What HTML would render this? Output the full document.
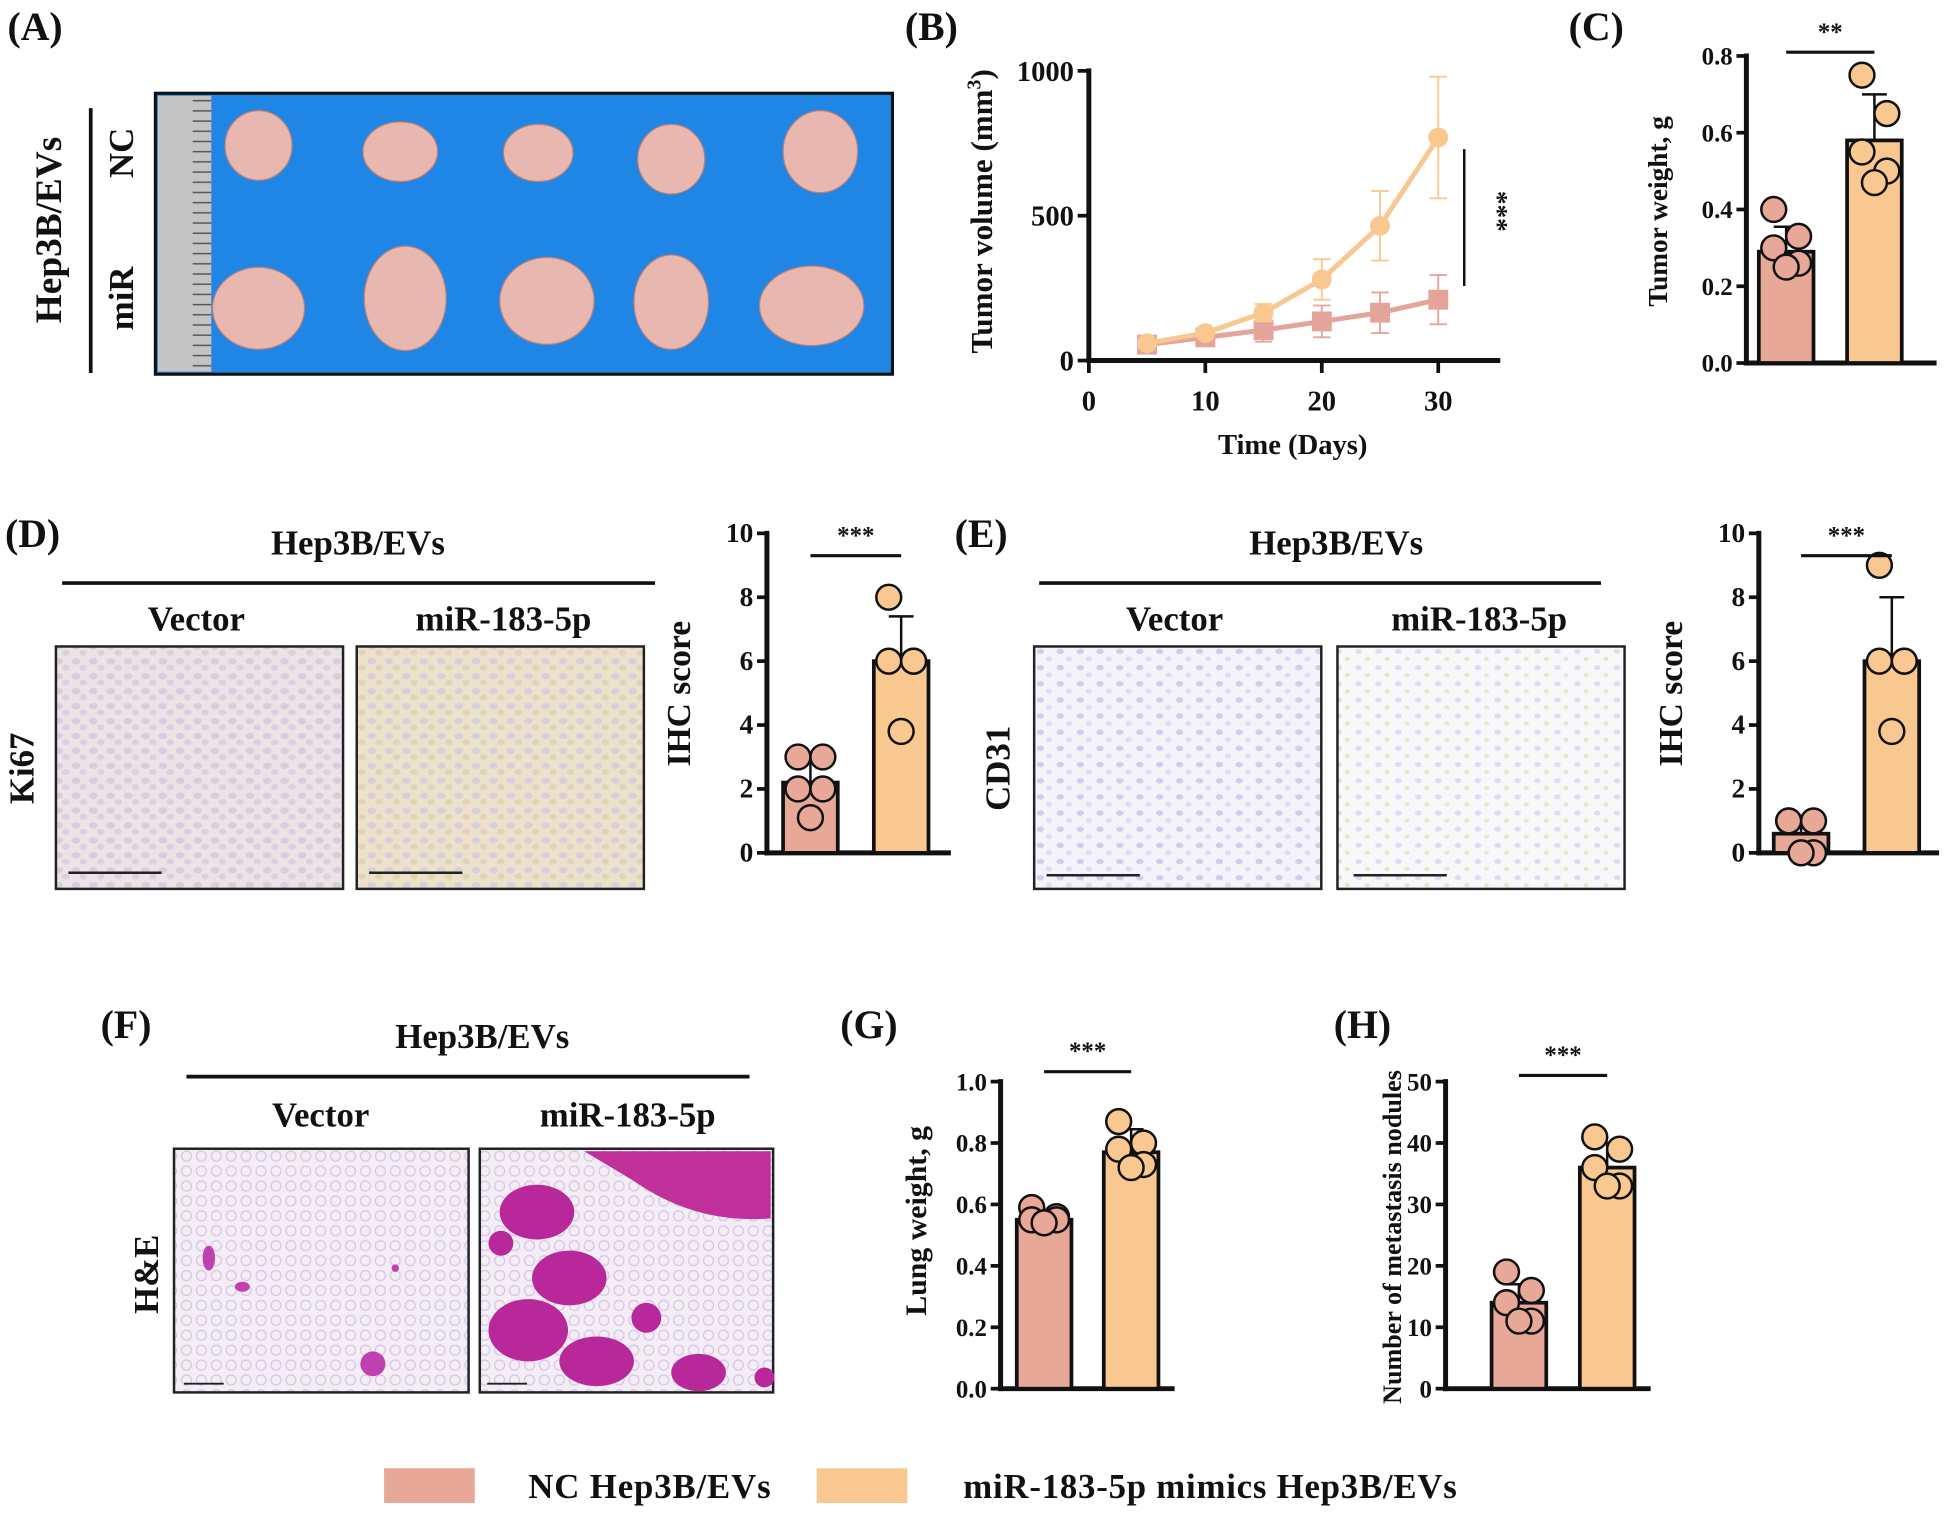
<!DOCTYPE html>
<html><head><meta charset="utf-8">
<style>
html,body{margin:0;padding:0;background:#fff;}
svg{display:block;}
text{font-family:"Liberation Serif",serif;font-weight:bold;fill:#111;}
</style></head>
<body>
<svg id="fig" width="1949" height="1513" viewBox="0 0 1568 1217" preserveAspectRatio="none" xmlns="http://www.w3.org/2000/svg">
<defs>
<pattern id="ruler" x="127" y="77" width="43" height="8.2" patternUnits="userSpaceOnUse"><rect width="43" height="8.2" fill="#c4c4c4"/><line x1="28" y1="4" x2="43" y2="4" stroke="#555" stroke-width="1.2"/></pattern>
<pattern id="cellsA" width="14" height="12" patternUnits="userSpaceOnUse"><rect width="14" height="12" fill="#ebe3e6"/><ellipse cx="5" cy="4" rx="3.5" ry="2.6" fill="#d8cde0"/><ellipse cx="11" cy="9" rx="3" ry="2.4" fill="#ddd0dd"/></pattern>
<pattern id="cellsB" width="14" height="12" patternUnits="userSpaceOnUse"><rect width="14" height="12" fill="#ece2cc"/><ellipse cx="5" cy="4" rx="3.5" ry="2.6" fill="#d9cfdc"/><ellipse cx="11" cy="9" rx="3" ry="2.4" fill="#e3d2b8"/></pattern>
<pattern id="cellsC" width="16" height="13" patternUnits="userSpaceOnUse"><rect width="16" height="13" fill="#f4f3f9"/><ellipse cx="5" cy="4" rx="3" ry="2.2" fill="#cccfee"/><ellipse cx="12" cy="10" rx="2.5" ry="2" fill="#dcdcf2"/></pattern>
<pattern id="cellsD" width="16" height="13" patternUnits="userSpaceOnUse"><rect width="16" height="13" fill="#f8f7fa"/><ellipse cx="5" cy="4" rx="2.6" ry="2" fill="#dcdcf0"/><ellipse cx="12" cy="10" rx="2" ry="1.6" fill="#efe2c8"/></pattern>
<pattern id="lung" width="12" height="12" patternUnits="userSpaceOnUse"><rect width="12" height="12" fill="#f3edf6"/><circle cx="6" cy="6" r="4" fill="none" stroke="#d9c4e4" stroke-width="1"/></pattern>
</defs>

<!-- Panel A -->
<text x="6" y="32" font-size="32">(A)</text>
<g>
<rect x="125" y="75" width="593" height="226" fill="#1f86e6" stroke="#111" stroke-width="2.5"/>
<rect x="127" y="77" width="43" height="222" fill="url(#ruler)"/>
<g fill="#e8b8b0" stroke="#b98078" stroke-width="1">
<ellipse cx="208" cy="117" rx="27" ry="28"/><ellipse cx="322" cy="122" rx="30" ry="24"/><ellipse cx="433" cy="123" rx="28" ry="23"/><ellipse cx="540" cy="128" rx="27" ry="28"/><ellipse cx="660" cy="122" rx="30" ry="33"/>
<ellipse cx="208" cy="248" rx="37" ry="33"/><ellipse cx="326" cy="240" rx="33" ry="42"/><ellipse cx="440" cy="242" rx="38" ry="35"/><ellipse cx="540" cy="243" rx="30" ry="38"/><ellipse cx="653" cy="246" rx="42" ry="32"/>
</g></g>
<line x1="73" y1="87" x2="73" y2="300" stroke="#111" stroke-width="3"/>
<text transform="translate(49,185) rotate(-90)" text-anchor="middle" font-size="30">Hep3B/EVs</text>
<text transform="translate(107,123) rotate(-90)" text-anchor="middle" font-size="28">NC</text>
<text transform="translate(107,240) rotate(-90)" text-anchor="middle" font-size="28">miR</text>

<text x="728" y="32" font-size="32">(B)</text>
<text x="1262" y="32" font-size="32">(C)</text>
<text x="4" y="440" font-size="32">(D)</text>
<text x="768" y="440" font-size="32">(E)</text>
<text x="81" y="835" font-size="32">(F)</text>
<text x="676" y="835" font-size="32">(G)</text>
<text x="1073" y="835" font-size="32">(H)</text>

<!-- Panel D micrographs -->
<text x="288" y="446" text-anchor="middle" font-size="28">Hep3B/EVs</text>
<line x1="50" y1="469" x2="527" y2="469" stroke="#111" stroke-width="3"/>
<text x="158" y="507" text-anchor="middle" font-size="28">Vector</text>
<text x="405" y="507" text-anchor="middle" font-size="28">miR-183-5p</text>
<rect x="45" y="520" width="231" height="195" fill="url(#cellsA)" stroke="#222" stroke-width="2"/>
<rect x="287" y="520" width="231" height="195" fill="url(#cellsB)" stroke="#222" stroke-width="2"/>
<line x1="55" y1="702" x2="130" y2="702" stroke="#222" stroke-width="2"/><line x1="297" y1="702" x2="372" y2="702" stroke="#222" stroke-width="2"/>
<text transform="translate(27,618) rotate(-90)" text-anchor="middle" font-size="28">Ki67</text>

<!-- Panel E micrographs -->
<text x="1075" y="446" text-anchor="middle" font-size="28">Hep3B/EVs</text>
<line x1="836" y1="469" x2="1288" y2="469" stroke="#111" stroke-width="3"/>
<text x="945" y="507" text-anchor="middle" font-size="28">Vector</text>
<text x="1190" y="507" text-anchor="middle" font-size="28">miR-183-5p</text>
<rect x="832" y="520" width="231" height="195" fill="url(#cellsC)" stroke="#222" stroke-width="2"/>
<rect x="1076" y="520" width="231" height="195" fill="url(#cellsD)" stroke="#222" stroke-width="2"/>
<line x1="842" y1="704" x2="917" y2="704" stroke="#222" stroke-width="2"/><line x1="1089" y1="704" x2="1164" y2="704" stroke="#222" stroke-width="2"/>
<text transform="translate(812,618) rotate(-90)" text-anchor="middle" font-size="28">CD31</text>

<!-- Panel F micrographs -->
<text x="388" y="843" text-anchor="middle" font-size="28">Hep3B/EVs</text>
<line x1="150" y1="866" x2="603" y2="866" stroke="#111" stroke-width="3"/>
<text x="258" y="906" text-anchor="middle" font-size="28">Vector</text>
<text x="505" y="906" text-anchor="middle" font-size="28">miR-183-5p</text>
<g>
<rect x="140" y="924" width="237" height="196" fill="url(#lung)" stroke="#222" stroke-width="2"/>
<g fill="#c040b0"><ellipse cx="168" cy="1012" rx="5" ry="10"/><ellipse cx="195" cy="1035" rx="6" ry="4"/><circle cx="300" cy="1097" r="10"/><circle cx="318" cy="1020" r="3"/></g>
<line x1="148" y1="1113" x2="180" y2="1113" stroke="#222" stroke-width="1.5"/></g>
<g>
<rect x="386" y="924" width="236" height="196" fill="url(#lung)" stroke="#222" stroke-width="2"/>
<path d="M470 926 L620 926 L620 980 Q560 985 510 950 Z" fill="#c0309a"/>
<g fill="#b8289a"><ellipse cx="432" cy="975" rx="30" ry="22"/><ellipse cx="458" cy="1028" rx="30" ry="22"/><ellipse cx="425" cy="1070" rx="32" ry="25"/><ellipse cx="480" cy="1095" rx="30" ry="20"/><circle cx="520" cy="1060" r="12"/><ellipse cx="562" cy="1104" rx="22" ry="15"/><circle cx="403" cy="1000" r="10"/><circle cx="615" cy="1108" r="8"/></g>
<line x1="392" y1="1113" x2="424" y2="1113" stroke="#222" stroke-width="1.5"/></g>
<text transform="translate(127,1025) rotate(-90)" text-anchor="middle" font-size="28">H&amp;E</text>

<!-- Legend -->
<rect x="309" y="1181" width="73" height="28" fill="#e8a898"/>
<text x="425" y="1205" font-size="28" textLength="195">NC Hep3B/EVs</text>
<rect x="657" y="1181" width="73" height="28" fill="#f8c890"/>
<text x="775" y="1205" font-size="28" textLength="397">miR-183-5p mimics Hep3B/EVs</text>
<g id="charts"></g>
</svg>
<script>
// Panel B data
const bDays = [5, 10, 15, 20, 25, 30];
const bMir = [60, 95, 165, 280, 465, 770];
const bMirErr = [10, 15, 30, 70, 120, 210];
const bNc = [55, 80, 105, 135, 165, 210];
const bNcErr = [10, 15, 40, 55, 70, 85];
const bXTicks = [0, 10, 20, 30];
const bYTicks = [0, 500, 1000];
// Bar panel data
const cNcPts = [0.40, 0.33, 0.30, 0.26, 0.25];
const cMirPts = [0.75, 0.65, 0.55, 0.50, 0.47];
const cMeans = [0.29, 0.58];
const cSd = [0.065, 0.12];
const cTicks = ["0.0", "0.2", "0.4", "0.6", "0.8"];
const dNcPts = [3.0, 3.0, 2.0, 2.0, 1.1];
const dMirPts = [8.0, 6.0, 6.0, 6.0, 3.8];
const dMeans = [2.2, 6.0];
const dSd = [0.8, 1.4];
const ihcTicks = ["0", "2", "4", "6", "8", "10"];
const eNcPts = [1.0, 1.0, 1.0, 0.0, 0.0];
const eMirPts = [9.0, 6.0, 6.0, 6.0, 3.8];
const eMeans = [0.6, 6.0];
const eSd = [0.5, 2.0];
const gNcPts = [0.59, 0.56, 0.55, 0.55, 0.54];
const gMirPts = [0.87, 0.80, 0.78, 0.73, 0.72];
const gMeans = [0.55, 0.77];
const gSd = [0.02, 0.075];
const gTicks = ["0.0", "0.2", "0.4", "0.6", "0.8", "1.0"];
const hNcPts = [19, 16, 14, 11, 11];
const hMirPts = [41, 39, 36, 33, 33];
const hMeans = [14, 36];
const hSd = [3, 4];
const hTicks = ["0", "10", "20", "30", "40", "50"];

const NS = "http://www.w3.org/2000/svg";
const root = document.getElementById('charts');
function mk(tag, attrs, parent) {
  const e = document.createElementNS(NS, tag);
  for (const k in attrs) e.setAttribute(k, attrs[k]);
  (parent || root).appendChild(e);
  return e;
}
const PINK = "#e8a898", ORANGE = "#f8c890";

// ---- Panel B ----
(function(){
  const g = mk('g', {});
  
  
  const x0 = 876, xPer = 9.37, y0 = 290, yTop = 57;
  const X = d => x0 + d * xPer;
  const Y = v => y0 - (v / 1000) * (y0 - yTop);
  mk('line', {x1: x0, y1: yTop - 2, x2: x0, y2: y0 + 2, stroke: '#111', 'stroke-width': 4}, g);
  mk('line', {x1: x0 - 2, y1: y0, x2: 1207, y2: y0, stroke: '#111', 'stroke-width': 4}, g);
  bXTicks.forEach(t => {
    mk('line', {x1: X(t), y1: y0, x2: X(t), y2: y0 + 10, stroke: '#111', 'stroke-width': 3}, g);
    const tx = mk('text', {x: X(t), y: y0 + 40, 'text-anchor': 'middle', 'font-size': 23}, g);
    tx.textContent = t;
  });
  bYTicks.forEach(t => {
    mk('line', {x1: x0 - 9, y1: Y(t), x2: x0, y2: Y(t), stroke: '#111', 'stroke-width': 3}, g);
    const tx = mk('text', {x: x0 - 12, y: Y(t) + 8, 'text-anchor': 'end', 'font-size': 23}, g);
    tx.textContent = t;
  });
  const xt = mk('text', {x: 1040, y: 365, 'text-anchor': 'middle', 'font-size': 23}, g);
  xt.textContent = 'Time (Days)';
  
  
  const yt = mk('text', {transform: 'translate(798,170) rotate(-90)', 'text-anchor': 'middle', 'font-size': 25}, g);
  yt.innerHTML = 'Tumor volume (mm<tspan dy="-9" font-size="16">3</tspan><tspan dy="9">)</tspan>';
  
  
  function series(vals, errs, col, name, square) {
    const sg = mk('g', {}, g);
    
    
    bDays.forEach((d, i) => {
      const x = X(d);
      mk('line', {x1: x, y1: Y(vals[i] + errs[i]), x2: x, y2: Y(vals[i] - errs[i]), stroke: col, 'stroke-width': 1.5}, sg);
      mk('line', {x1: x - 7, y1: Y(vals[i] + errs[i]), x2: x + 7, y2: Y(vals[i] + errs[i]), stroke: col, 'stroke-width': 1.5}, sg);
      mk('line', {x1: x - 7, y1: Y(vals[i] - errs[i]), x2: x + 7, y2: Y(vals[i] - errs[i]), stroke: col, 'stroke-width': 1.5}, sg);
    });
    mk('polyline', {points: bDays.map((d, i) => X(d) + ',' + Y(vals[i])).join(' '), fill: 'none', stroke: col, 'stroke-width': 4}, sg);
    bDays.forEach((d, i) => {
      let m;
      if (square) m = mk('rect', {x: X(d) - 8, y: Y(vals[i]) - 8, width: 16, height: 16, fill: col}, sg);
      else m = mk('circle', {cx: X(d), cy: Y(vals[i]), r: 8, fill: col}, sg);
      
      
    });
  }
  series(bNc, bNcErr, '#e4a49a', 'nc-series', true);
  series(bMir, bMirErr, ORANGE, 'mir-series', false);
  mk('line', {x1: 1178, y1: 120, x2: 1178, y2: 230, stroke: '#111', 'stroke-width': 2}, g);
  const st = mk('text', {transform: 'translate(1198,170) rotate(90)', 'text-anchor': 'middle', 'font-size': 22}, g);
  st.textContent = '***';
})();

// ---- generic bar chart ----
function barChart(o) {
  const g = mk('g', {});
  
  
  const n = o.ticks.length - 1;
  const Y = v => o.y0 - (v / o.max) * (o.y0 - o.yTop);
  mk('line', {x1: o.x0, y1: o.yTop - 2, x2: o.x0, y2: o.y0 + 2, stroke: '#111', 'stroke-width': 4}, g);
  mk('line', {x1: o.x0 - 2, y1: o.y0, x2: o.xEnd, y2: o.y0, stroke: '#111', 'stroke-width': 4}, g);
  o.ticks.forEach((t, i) => {
    const v = o.max * i / n;
    mk('line', {x1: o.x0 - 8, y1: Y(v), x2: o.x0, y2: Y(v), stroke: '#111', 'stroke-width': 3}, g);
    const tx = mk('text', {x: o.x0 - 11, y: Y(v) + 7, 'text-anchor': 'end', 'font-size': o.fs || 20}, g);
    tx.textContent = t;
  });
  const yt = mk('text', {transform: 'translate(' + o.titleX + ',' + o.titleY + ') rotate(-90)', 'text-anchor': 'middle', 'font-size': o.tfs || 22}, g);
  yt.textContent = o.title;
  
  
  const cols = [PINK, ORANGE];
  const pts = [o.ncPts, o.mirPts];
  const jit = [-10, 10, -10, 10, 0];
  o.centers.forEach((cx, k) => {
    const top = Y(o.means[k]);
    const b = mk('rect', {x: cx - 22, y: top, width: 44, height: o.y0 - top, fill: cols[k], stroke: '#111', 'stroke-width': 3}, g);
    
    
    const eT = Y(o.means[k] + o.sd[k]);
    mk('line', {x1: cx, y1: top, x2: cx, y2: eT, stroke: '#111', 'stroke-width': 2}, g);
    mk('line', {x1: cx - 10, y1: eT, x2: cx + 10, y2: eT, stroke: '#111', 'stroke-width': 2}, g);
    pts[k].forEach((v, i) => {
      const c = mk('circle', {cx: cx + jit[i], cy: Y(v), r: 10, fill: cols[k], stroke: '#111', 'stroke-width': 2}, g);
      
      
    });
  });
  mk('line', {x1: o.centers[0], y1: o.sigY, x2: o.centers[1], y2: o.sigY, stroke: '#111', 'stroke-width': 2.5}, g);
  const s = mk('text', {x: (o.centers[0] + o.centers[1]) / 2, y: o.sigY - 10, 'text-anchor': 'middle', 'font-size': 20}, g);
  s.textContent = o.sig;
}
barChart({name: 'tumor-weight-chart', x0: 1405, xEnd: 1558, y0: 292, yTop: 45, max: 0.8, ticks: cTicks, centers: [1437, 1508], means: cMeans, sd: cSd, ncPts: cNcPts, mirPts: cMirPts, sigY: 42, sig: '**', title: 'Tumor weight, g', titleX: 1341, titleY: 170});
barChart({name: 'ki67-score-chart', x0: 617, xEnd: 765, y0: 686, yTop: 429, max: 10, ticks: ihcTicks, centers: [652, 725], means: dMeans, sd: dSd, ncPts: dNcPts, mirPts: dMirPts, sigY: 447, sig: '***', title: 'IHC score', titleX: 555, titleY: 558, fs: 22, tfs: 27});
barChart({name: 'cd31-score-chart', x0: 1415, xEnd: 1560, y0: 686, yTop: 429, max: 10, ticks: ihcTicks, centers: [1449, 1522], means: eMeans, sd: eSd, ncPts: eNcPts, mirPts: eMirPts, sigY: 447, sig: '***', title: 'IHC score', titleX: 1353, titleY: 558, fs: 22, tfs: 27});
barChart({name: 'lung-weight-chart', x0: 805, xEnd: 945, y0: 1117, yTop: 870, max: 1.0, ticks: gTicks, centers: [840, 910], means: gMeans, sd: gSd, ncPts: gNcPts, mirPts: gMirPts, sigY: 862, sig: '***', title: 'Lung weight, g', titleX: 745, titleY: 982, tfs: 24});
barChart({name: 'metastasis-nodules-chart', x0: 1163, xEnd: 1328, y0: 1117, yTop: 870, max: 50, ticks: hTicks, centers: [1222, 1293], means: hMeans, sd: hSd, ncPts: hNcPts, mirPts: hMirPts, sigY: 865, sig: '***', title: 'Number of metastasis nodules', titleX: 1127, titleY: 995, tfs: 21});
</script>
</body></html>
